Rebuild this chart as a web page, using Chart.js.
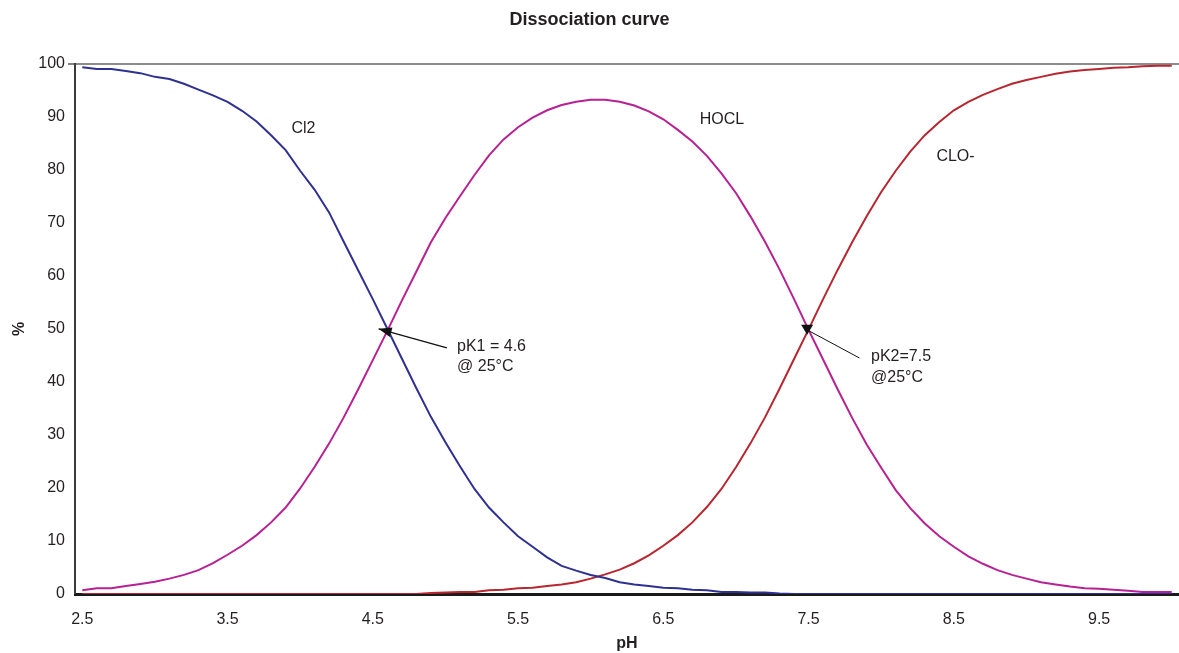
<!DOCTYPE html>
<html>
<head>
<meta charset="utf-8">
<title>Dissociation curve</title>
<script src="https://cdn.jsdelivr.net/npm/chart.js@4.4.0/dist/chart.umd.min.js"></script>
<style>
    html, body { margin: 0; padding: 0; background: #ffffff; }
    #wrap { width: 1179px; height: 653px; }
</style>
</head>
<body>
<div id="wrap"><canvas id="chart" width="1179" height="653"></canvas></div>
<script>
// ============================================
// DATA
// ============================================
const phLabels = [
    '2.5', '2.6', '2.7', '2.8', '2.9', '3.0', '3.1', '3.2', '3.3', '3.4',
    '3.5', '3.6', '3.7', '3.8', '3.9', '4.0', '4.1', '4.2', '4.3', '4.4',
    '4.5', '4.6', '4.7', '4.8', '4.9', '5.0', '5.1', '5.2', '5.3', '5.4',
    '5.5', '5.6', '5.7', '5.8', '5.9', '6.0', '6.1', '6.2', '6.3', '6.4',
    '6.5', '6.6', '6.7', '6.8', '6.9', '7.0', '7.1', '7.2', '7.3', '7.4',
    '7.5', '7.6', '7.7', '7.8', '7.9', '8.0', '8.1', '8.2', '8.3', '8.4',
    '8.5', '8.6', '8.7', '8.8', '8.9', '9.0', '9.1', '9.2', '9.3', '9.4',
    '9.5', '9.6', '9.7', '9.8', '9.9', '10.0'
];

const cl2 = [
    99.3, 99.0, 99.0, 98.6, 98.2, 97.5, 97.1, 96.2, 95.1, 94.0,
    92.8, 91.1, 89.1, 86.5, 83.7, 79.8, 76.2, 71.9, 66.4, 61.0,
    55.6, 50.0, 44.4, 38.8, 33.4, 28.6, 24.1, 19.8, 16.3, 13.5,
    10.9, 8.9, 6.9, 5.3, 4.4, 3.6, 3.0, 2.2, 1.8, 1.5,
    1.2, 1.1, 0.8, 0.7, 0.4, 0.4, 0.3, 0.3, 0.1, 0,
    0, 0, 0, 0, 0, 0, 0, 0, 0, 0,
    0, 0, 0, 0, 0, 0, 0, 0, 0, 0,
    0, 0, 0, 0, 0, 0
];

const hocl = [
    0.7, 1.1, 1.1, 1.5, 1.9, 2.3, 2.9, 3.6, 4.5, 5.8,
    7.4, 9.1, 11.1, 13.5, 16.3, 19.9, 24.0, 28.4, 33.3, 38.6,
    44.1, 49.6, 55.3, 60.8, 66.3, 70.9, 75.0, 79.0, 82.7, 85.7,
    88.0, 89.8, 91.2, 92.2, 92.8, 93.2, 93.2, 92.8, 92.1, 91.0,
    89.5, 87.5, 85.3, 82.6, 79.3, 75.6, 71.2, 66.4, 61.2, 55.6,
    49.8, 44.2, 38.6, 33.2, 28.2, 23.8, 19.6, 16.2, 13.3, 10.9,
    8.9, 7.1, 5.7, 4.5, 3.6, 2.9, 2.2, 1.8, 1.4, 1.1,
    1.0, 0.8, 0.6, 0.4, 0.4, 0.4
];

const clo = [
    0, 0, 0, 0, 0, 0, 0, 0, 0, 0,
    0, 0, 0, 0, 0, 0, 0, 0, 0, 0,
    0, 0, 0, 0, 0.2, 0.3, 0.4, 0.4, 0.7, 0.8,
    1.1, 1.2, 1.5, 1.8, 2.2, 2.9, 3.7, 4.6, 5.8, 7.3,
    9.1, 11.1, 13.5, 16.4, 19.8, 23.9, 28.4, 33.3, 38.7, 44.3,
    49.9, 55.6, 61.1, 66.3, 71.2, 75.8, 79.8, 83.4, 86.5, 89.0,
    91.2, 92.8, 94.1, 95.2, 96.2, 96.9, 97.5, 98.1, 98.5, 98.8,
    99.0, 99.2, 99.3, 99.5, 99.6, 99.6
];

const yTicks = [0, 10, 20, 30, 40, 50, 60, 70, 80, 90, 100];

// text labels placed in data units (pH, %)
const noteTexts = ['Cl2', 'HOCL', 'CLO-', 'pK1 = 4.6', '@ 25°C', 'pK2=7.5', '@25°C'];
const notePh = [3.94, 6.75, 8.38, 5.08, 5.08, 7.93, 7.93];
const notePct = [87.7, 89.4, 82.5, 46.6, 42.8, 44.7, 40.8];

// ============================================
// ANNOTATION PLUGIN - labels and arrows
// ============================================
const FONT = "'Liberation Sans', Arial, sans-serif";

function phIndex(ph) {
    return (ph - parseFloat(phLabels[0])) * 10;
}

const notesPlugin = {
    id: 'notes',
    afterDatasetsDraw(chart) {
        const ctx = chart.ctx;
        const x = chart.scales.x;
        const y = chart.scales.y;
        const px = (ph) => x.getPixelForValue(phIndex(ph));
        const py = (v) => y.getPixelForValue(v);

        ctx.save();
        ctx.fillStyle = '#231f20';
        ctx.font = '16px ' + FONT;
        ctx.textAlign = 'left';
        ctx.textBaseline = 'middle';
        noteTexts.forEach((t, i) => {
            ctx.fillText(t, px(notePh[i]), py(notePct[i]));
        });

        // arrow 1 -> pK1
        let x1 = px(5.01), y1 = py(46.4), x2 = px(4.54), y2 = py(50.0);
        ctx.strokeStyle = '#111';
        ctx.lineWidth = 1.3;
        ctx.beginPath();
        ctx.moveTo(x1, y1);
        ctx.lineTo(x2, y2);
        ctx.stroke();
        const ang = Math.atan2(y2 - y1, x2 - x1);
        ctx.fillStyle = '#111';
        ctx.beginPath();
        ctx.moveTo(x2, y2);
        ctx.lineTo(x2 - 13 * Math.cos(ang) + 5 * Math.sin(ang), y2 - 13 * Math.sin(ang) - 5 * Math.cos(ang));
        ctx.lineTo(x2 - 13 * Math.cos(ang) - 5 * Math.sin(ang), y2 - 13 * Math.sin(ang) + 5 * Math.cos(ang));
        ctx.closePath();
        ctx.fill();

        // arrow 2 -> pK2 (triangle marker)
        x1 = px(7.85); y1 = py(44.5); x2 = px(7.49); y2 = py(49.8);
        ctx.lineWidth = 1;
        ctx.beginPath();
        ctx.moveTo(x1, y1);
        ctx.lineTo(x2, y2);
        ctx.stroke();
        ctx.beginPath();
        ctx.moveTo(x2 - 6, y2 - 5);
        ctx.lineTo(x2 + 6, y2 - 5);
        ctx.lineTo(x2, y2 + 5);
        ctx.closePath();
        ctx.fill();
        ctx.restore();
    }
};

// ============================================
// CHART
// ============================================
const ctx = document.getElementById('chart').getContext('2d');

const config = {
    type: 'line',
    data: {
        labels: phLabels,
        datasets: [
            { label: 'Cl2', data: cl2, borderColor: '#2e3192' },
            { label: 'HOCL', data: hocl, borderColor: '#b72193' },
            { label: 'CLO-', data: clo, borderColor: '#b8262f' }
        ].map(d => Object.assign(d, {
            borderWidth: 2,
            pointRadius: 0,
            tension: 0,
            fill: false
        }))
    },
    options: {
        responsive: false,
        animation: false,
        layout: { padding: 0 },
        plugins: {
            legend: { display: false },
            tooltip: { enabled: false },
            title: {
                display: true,
                text: 'Dissociation curve',
                color: '#231f20',
                font: { family: FONT, size: 18, weight: 'bold' },
                padding: { top: 9, bottom: 33 }
            }
        },
        scales: {
            x: {
                type: 'category',
                offset: true,
                afterFit: (s) => {
                    s.height = 59;
                    s.paddingLeft = 0;
                    s.paddingRight = 0;
                },
                grid: {
                    display: true,
                    drawOnChartArea: false,
                    drawTicks: false,
                    color: 'rgba(0,0,0,0)'
                },
                border: { display: true, color: '#1a1a1a', width: 3 },
                ticks: {
                    autoSkip: false,
                    maxRotation: 0,
                    padding: 16,
                    color: '#231f20',
                    font: { family: FONT, size: 16 },
                    callback: function (value, index) {
                        return index % 10 === 0 ? this.getLabelForValue(value) : '';
                    }
                },
                title: {
                    display: true,
                    text: 'pH',
                    color: '#231f20',
                    font: { family: FONT, size: 16, weight: 'bold' },
                    padding: { top: 0, bottom: 0 }
                }
            },
            y: {
                min: yTicks[0],
                max: yTicks[yTicks.length - 1],
                afterFit: (s) => { s.width = 75; },
                afterBuildTicks: (s) => { s.ticks = yTicks.map(v => ({ value: v })); },
                grid: {
                    drawOnChartArea: true,
                    tickLength: 7,
                    tickColor: '#808080',
                    lineWidth: (c) => (c.tick && c.tick.value === 100 ? 2 : 0),
                    color: (c) => (c.tick && c.tick.value === 100 ? '#8c8c8c' : 'rgba(0,0,0,0)')
                },
                border: { display: true, color: '#3a3a3a', width: 2 },
                ticks: {
                    padding: 3,
                    color: '#231f20',
                    font: { family: FONT, size: 16 }
                },
                title: {
                    display: true,
                    text: '%',
                    color: '#231f20',
                    font: { family: FONT, size: 16, weight: 'bold' },
                    padding: { top: 10, bottom: 0 }
                }
            }
        }
    },
    plugins: [notesPlugin]
};

const chart = new Chart(ctx, config);
</script>
</body>
</html>
